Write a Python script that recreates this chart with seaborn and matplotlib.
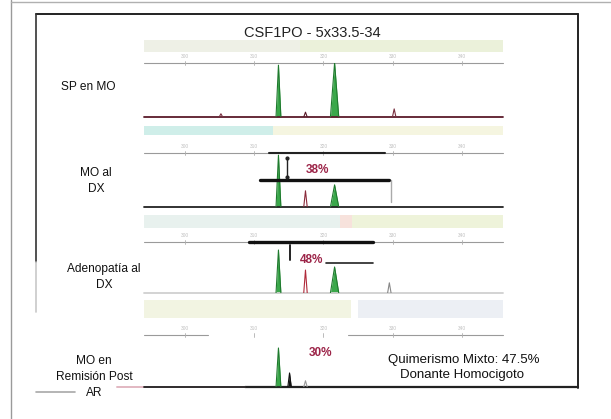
import numpy as np
import pandas as pd
import matplotlib
matplotlib.use("Agg")
import matplotlib.pyplot as plt
from matplotlib.patches import Rectangle
import seaborn as sns

sns.set_theme(style="white")
plt.rcParams['font.family'] = ['Liberation Sans', 'DejaVu Sans']

W, H = 611, 419

title = "CSF1PO - 5x33.5-34"
sample_labels = ["SP en MO", "MO al\nDX", "Adenopatía al\nDX", "MO en\nRemisión Post\nAR"]
ratio_labels = ["", "38%", "48%", "30%"]
summary_lines = ["Quimerismo Mixto: 47.5%", "Donante Homocigoto"]
size_ticks = [300, 310, 320, 330, 340]

# green-dye allele peaks: size (bp) and height (RFU) per sample
green_sizes_1 = [313.5, 321.6]
green_heights_1 = [960, 1000]
green_sizes_2 = [313.5, 321.6]
green_heights_2 = [960, 410]
green_sizes_3 = [313.5, 321.6]
green_heights_3 = [843, 510]
green_sizes_4 = [313.5]
green_heights_4 = [750]

# minor peaks from the other dyes
minor_sizes_1 = [305.2, 317.4, 330.2]
minor_heights_1 = [60, 90, 150]
minor_sizes_2 = [317.4]
minor_heights_2 = [300]
minor_sizes_3 = [317.4, 329.5]
minor_heights_3 = [450, 200]
minor_sizes_4 = [315.1, 317.4]
minor_heights_4 = [270, 120]

XMIN, XMAX = 294.1, 345.9
PX0, PX1 = 144, 503

fig = plt.figure(figsize=(W / 100, H / 100), dpi=100)
bg = fig.add_axes([0, 0, 1, 1])
bg.set_xlim(0, W)
bg.set_ylim(H, 0)
bg.axis("off")


def box(x0, y0, x1, y1):
    return [x0 / W, 1 - y1 / H, (x1 - x0) / W, (y1 - y0) / H]


# slide frame
bg.plot([11, 11], [0, H], color="#9a9a9a", lw=1)
bg.plot([11, W], [2, 2], color="#b0b0b0", lw=1)
bg.plot([36, 578], [14, 14], color="#222222", lw=1.4)
bg.plot([578, 578], [14, 388], color="#222222", lw=1.4)
bg.plot([245, 578], [387, 387], color="#222222", lw=1.6)
bg.plot([117, 245], [387, 387], color="#e2b8c2", lw=1.4)
bg.plot([36, 36], [14, 262], color="#333333", lw=1.2)
bg.plot([36, 36], [262, 312], color="#c8c8c8", lw=1.2)
bg.plot([36, 75], [392, 392], color="#a8a8a8", lw=1.2)

# header strips above each trace
headers = [
    (40, 52, [(144, 300, "#eef0e6"), (300, 503, "#ebf1da")]),
    (126, 135, [(144, 273, "#cfeee9"), (273, 503, "#f5f5e0")]),
    (215, 228, [(144, 340, "#e8f1ee"), (340, 352, "#f7e2dc"), (352, 503, "#eef3da")]),
    (300, 318, [(144, 351, "#f2f4e2"), (358, 503, "#eceff4")]),
]
for y0, y1, segs in headers:
    for x0, x1, c in segs:
        bg.add_patch(Rectangle((x0, y0), x1 - x0, y1 - y0, color=c, lw=0, zorder=0))

bg.text(312, 33, title, ha="center", va="center", fontsize=10.5, color="#222222")

label_pos = [(88, 87), (96, 181), (104, 277), (94, 377)]
for (x, y), lab in zip(label_pos, sample_labels):
    bg.text(x, y, lab, ha="center", va="center", fontsize=8.6, color="#111111",
            linespacing=1.45)

bg.text(464, 360, summary_lines[0], ha="center", va="center", fontsize=9.5, color="#111111")
bg.text(462, 375, summary_lines[1], ha="center", va="center", fontsize=9.5, color="#111111")

panels = [
    dict(top=63, base=117, gs=green_sizes_1, gh=green_heights_1, ms=minor_sizes_1,
         mh=minor_heights_1, base_color="#5a1a2a", mcol=["#7a3040", "#5a1a2a", "#7a3040"]),
    dict(top=153, base=207, gs=green_sizes_2, gh=green_heights_2, ms=minor_sizes_2,
         mh=minor_heights_2, base_color="#222222", mcol=["#8a2a3a"]),
    dict(top=242, base=293, gs=green_sizes_3, gh=green_heights_3, ms=minor_sizes_3,
         mh=minor_heights_3, base_color="#d0d0d0", mcol=["#b02a3a", "#888888"]),
    dict(top=335, base=387, gs=green_sizes_4, gh=green_heights_4, ms=minor_sizes_4,
         mh=minor_heights_4, base_color="#222222", mcol=["#111111", "#999999"]),
]

axes = []
for i, p in enumerate(panels):
    ax = fig.add_axes(box(PX0, p["top"], PX1, p["base"]))
    ax.patch.set_alpha(0)
    axes.append(ax)

    # size axis along the top of the trace
    if i < 3:
        ax.plot([XMIN, XMAX], [1000, 1000], color="#9a9a9a", lw=0.8, clip_on=False)
    else:
        ax.plot([XMIN, 303.3], [1000, 1000], color="#9a9a9a", lw=0.8, clip_on=False)
        ax.plot([323.5, XMAX], [1000, 1000], color="#9a9a9a", lw=0.8, clip_on=False)
    for t in size_ticks:
        ax.plot([t, t], [970, 1030], color="#b0b0b0", lw=0.6, clip_on=False)
        ax.text(t, 1080, str(t), ha="center", va="bottom", fontsize=3.5, color="#c0c0c0")

    # baseline
    ax.plot([XMIN, XMAX], [0, 0], color=p["base_color"], lw=1.3, clip_on=False)

    # green peaks
    widths = [0.35 if j == 0 else 0.6 for j in range(len(p["gs"]))]
    rows = []
    for j, (s, h, w) in enumerate(zip(p["gs"], p["gh"], widths)):
        rows += [(j, s - w, 0), (j, s, h), (j, s + w, 0)]
    df = pd.DataFrame(rows, columns=["peak", "size", "rfu"])
    sns.lineplot(data=df, x="size", y="rfu", units="peak", estimator=None, sort=False,
                 color="#1f7a2e", lw=0.8, ax=ax, legend=False)
    for j, g in df.groupby("peak"):
        ax.fill_between(g["size"], 0, g["rfu"], color="#3aa84a", lw=0)

    # minor peaks
    mrows = []
    for j, (s, h) in enumerate(zip(p["ms"], p["mh"])):
        mrows += [(j, s - 0.25, 0), (j, s, h), (j, s + 0.25, 0)]
    mdf = pd.DataFrame(mrows, columns=["peak", "size", "rfu"])
    for j, g in mdf.groupby("peak"):
        sns.lineplot(data=g, x="size", y="rfu", estimator=None, sort=False,
                     color=p["mcol"][j], lw=0.8, ax=ax, legend=False)
        if i == 3 and j == 0:
            ax.fill_between(g["size"], 0, g["rfu"], color="#111111", lw=0)
    ax.set_xlim(XMIN, XMAX)
    ax.set_ylim(0, 1000)
    ax.axis("off")

red = "#9c2448"
# height comparison marks on the diagnostic marrow trace
ax2 = axes[1]
ax2.plot([312.1, 328.9], [1000, 1000], color="#222222", lw=1.5, clip_on=False)
ax2.plot([310.9, 329.5], [500, 500], color="#111111", lw=2.4, clip_on=False)
ax2.plot([314.8, 314.8], [907, 556], color="#222222", lw=1.0, marker="o", ms=2)
ax2.plot([329.8, 329.8], [500, 93], color="#aaaaaa", lw=1.0)
ax2.text(319.1, 685, ratio_labels[1], ha="center", va="center", fontsize=8.5,
         color=red, fontweight="bold")

ax3 = axes[2]
ax3.plot([309.2, 327.2], [1000, 1000], color="#111111", lw=2.4, clip_on=False)
ax3.plot([315.1, 315.1], [941, 647], color="#222222", lw=1.4)
ax3.plot([320.4, 327.2], [588, 588], color="#222222", lw=1.2)
ax3.text(318.3, 647, ratio_labels[2], ha="center", va="center", fontsize=8.5,
         color=red, fontweight="bold")

ax4 = axes[3]
ax4.text(319.6, 654, ratio_labels[3], ha="center", va="center", fontsize=8.5,
         color=red, fontweight="bold")

fig.savefig("out.png", dpi=100)
